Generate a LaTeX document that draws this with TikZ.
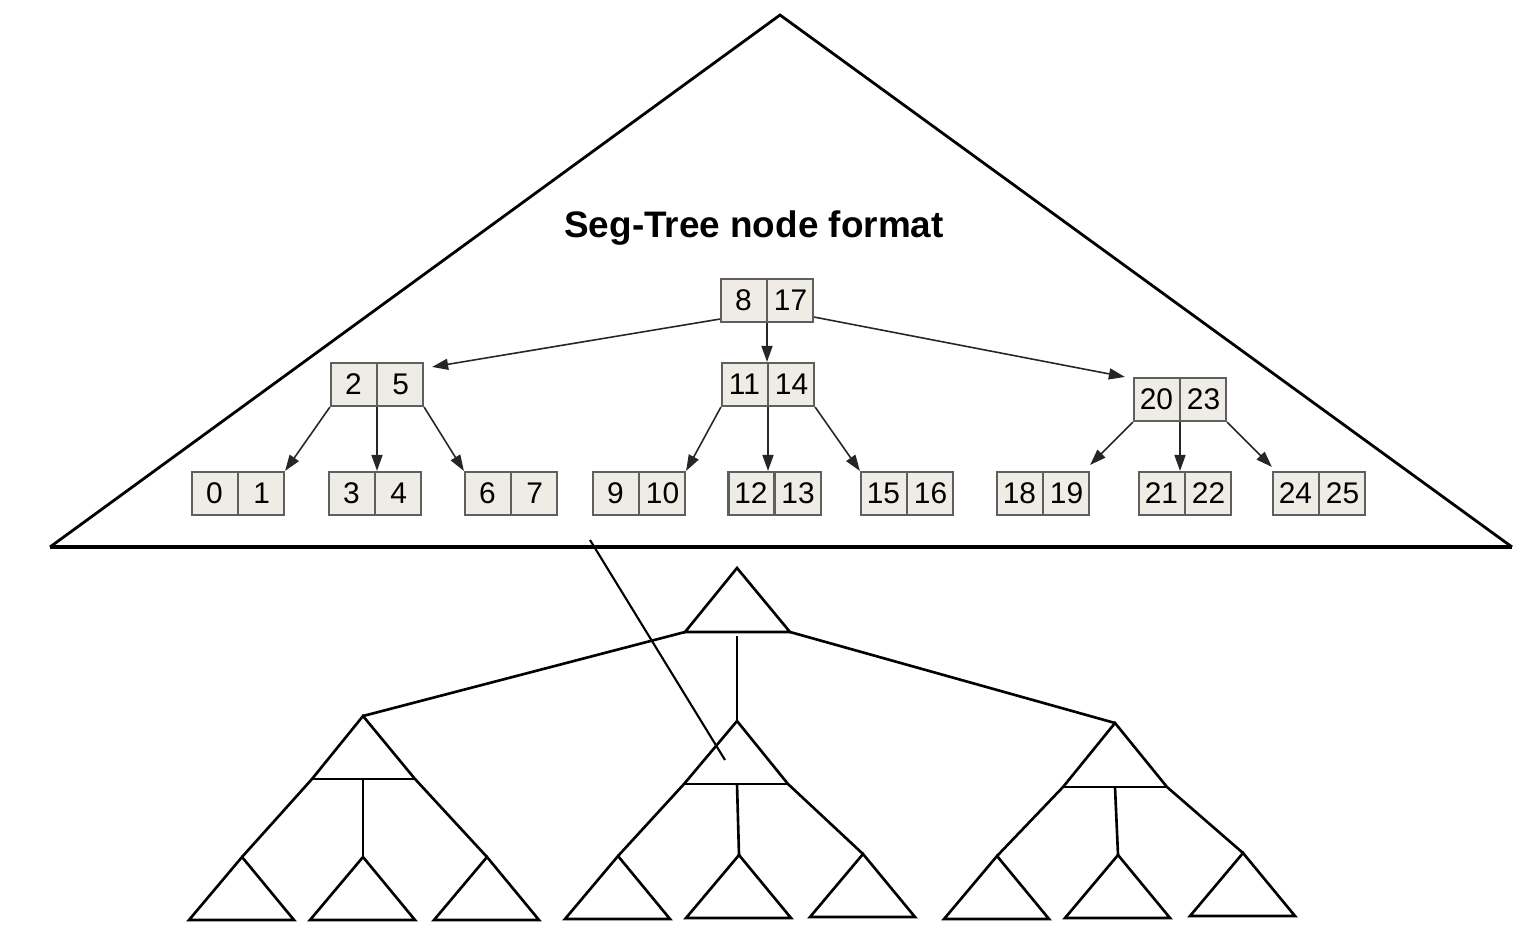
\documentclass[tikz,border=0pt]{standalone}
\usepackage{fontspec}
\setmainfont{Liberation Sans}
\usetikzlibrary{shapes.multipart,arrows.meta}
\definecolor{segfill}{RGB}{239,236,230}
\definecolor{segline}{RGB}{95,95,95}
\newcommand{\cellnum}[1]{\makebox[0.45cm]{\rule[-0.12cm]{0pt}{0.43cm}#1}}

\begin{document}
\begin{tikzpicture}[
    segbox/.style={draw=segline, fill=segfill, line width=0.6pt, rectangle split, rectangle split horizontal, rectangle split parts=2, inner sep=0pt, font=\fontsize{8.5}{9}\selectfont},
    segarrow/.style={-{Triangle[length=0.16cm,width=0.11cm]}, line width=0.45pt, black!85},
    treeline/.style={line width=0.75pt},
  ]
        \useasboundingbox (0,0) rectangle (15.28,-9.50);

        % Grosses Dreieck
        \draw[line width=0.8pt] (0.50,-5.47) -- (7.80,-0.15) -- (15.12,-5.47);
        \draw[line width=1.3pt] (0.50,-5.47) -- (15.12,-5.47);

        \node[font=\bfseries\fontsize{10.5}{12}\selectfont] (title) at (7.54,-2.28) {Seg-Tree node format};

        % Knoten
        \node[segbox] (n8)  at (7.67,-3.005) {\cellnum{8}\nodepart{two}\cellnum{17}};
        \node[segbox] (n2)  at (3.77,-3.845) {\cellnum{2}\nodepart{two}\cellnum{5}};
        \node[segbox] (n11) at (7.68,-3.845) {\cellnum{11}\nodepart{two}\cellnum{14}};
        \node[segbox] (n20) at (11.80,-3.995) {\cellnum{20}\nodepart{two}\cellnum{23}};

        \node[segbox] (n0)  at (2.38,-4.935) {\cellnum{0}\nodepart{two}\cellnum{1}};
        \node[segbox] (n3)  at (3.75,-4.935) {\cellnum{3}\nodepart{two}\cellnum{4}};
        \node[segbox] (n6)  at (5.11,-4.935) {\cellnum{6}\nodepart{two}\cellnum{7}};
        \node[segbox] (n9)  at (6.39,-4.935) {\cellnum{9}\nodepart{two}\cellnum{10}};
        \node[segbox] (n12) at (7.745,-4.935) {\cellnum{12}\nodepart{two}\cellnum{13}};
        \node[segbox] (n15) at (9.07,-4.935) {\cellnum{15}\nodepart{two}\cellnum{16}};
        \node[segbox] (n18) at (10.43,-4.935) {\cellnum{18}\nodepart{two}\cellnum{19}};
        \node[segbox] (n21) at (11.85,-4.935) {\cellnum{21}\nodepart{two}\cellnum{22}};
        \node[segbox] (n24) at (13.19,-4.935) {\cellnum{24}\nodepart{two}\cellnum{25}};

        % Pfeile
        \draw[segarrow] ([yshift=0.04cm]n8.south west) -- ([xshift=0.08cm,yshift=-0.05cm]n2.north east);
        \draw[segarrow] (n8.south) -- (n8.south |- n11.north);
        \draw[segarrow] ([yshift=0.06cm]n8.south east) -- ([xshift=-0.08cm]n20.north west);

        \draw[segarrow] (n2.south west) -- (n0.north east);
        \draw[segarrow] (n2.south) -- (n2.south |- n3.north);
        \draw[segarrow] (n2.south east) -- (n6.north west);
        \draw[segarrow] (n11.south west) -- (n9.north east);
        \draw[segarrow] (n11.south) -- (n11.south |- n12.north);
        \draw[segarrow] (n11.south east) -- (n15.north west);
        \draw[segarrow] (n20.south west) -- ([yshift=0.06cm]n18.north east);
        \draw[segarrow] (n20.south) -- (n20.south |- n21.north);
        \draw[segarrow] (n20.south east) -- ([yshift=0.04cm]n24.north west);

        % Blaetter unten
        \foreach \nm/\x/\y in {l1/2.42/8.57, l2/3.63/8.57, l3/4.87/8.57, l4/6.18/8.56, l5/7.39/8.55, l6/8.63/8.54, l7/9.97/8.56, l8/11.18/8.55, l9/12.43/8.53}
        {
            \coordinate (\nm) at (\x,-\y);
            \draw[treeline] (\nm) -- ++(-0.53,-0.63) -- ++(1.05,0) -- cycle;
        }

        % Mittlere Dreiecke
        \coordinate (ma)  at (3.63,-7.16);
        \coordinate (mal) at (3.12,-7.79);
        \coordinate (mar) at (4.15,-7.79);
        \coordinate (mb)  at (7.37,-7.21);
        \coordinate (mbl) at (6.84,-7.84);
        \coordinate (mbr) at (7.88,-7.84);
        \coordinate (mc)  at (11.15,-7.23);
        \coordinate (mcl) at (10.63,-7.87);
        \coordinate (mcr) at (11.67,-7.87);

        \draw[treeline] (l1) -- (mal) -- (ma) -- (mar) -- (l3);
        \draw[treeline] (mal) -- (mar);
        \draw[treeline] (ma |- mal) -- (l2);

        \draw[treeline] (l4) -- (mbl) -- (mb) -- (mbr) -- (l6);
        \draw[treeline] (mbl) -- (mbr);
        \draw[treeline] (mb |- mbl) -- (l5);

        \draw[treeline] (l7) -- (mcl) -- (mc) -- (mcr) -- (l9);
        \draw[treeline] (mcl) -- (mcr);
        \draw[treeline] (mc |- mcl) -- (l8);

        % Oberes Dreieck
        \coordinate (top)  at (7.37,-5.68);
        \coordinate (topl) at (6.85,-6.32);
        \coordinate (topr) at (7.90,-6.32);
        \draw[treeline] (topl) -- (top) -- (topr) -- cycle;
        \draw[treeline] (topl) -- (ma);
        \draw[treeline] (topr) -- (mc);
        \draw[treeline] ([yshift=-0.04cm]top |- topl) -- (mb);

        % Verbindungslinie
        \draw[line width=0.6pt] (5.90,-5.40) -- (7.25,-7.60);
\end{tikzpicture}
\end{document}
